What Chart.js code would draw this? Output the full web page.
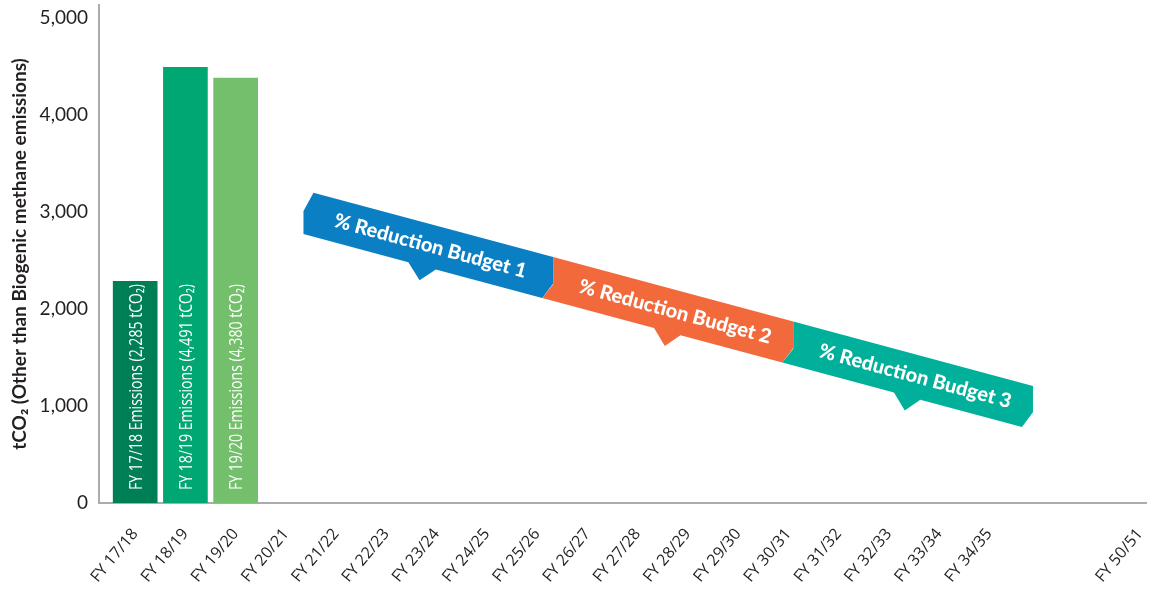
<!DOCTYPE html>
<html><head><meta charset="utf-8">
<script src="https://cdn.jsdelivr.net/npm/chart.js@4/dist/chart.umd.min.js"></script>
<style>html,body{margin:0;padding:0;background:#fff}#wrap{width:1151px;height:594px;position:relative}</style>
</head><body><div id="wrap"><canvas id="c"></canvas></div>
<script>
// ---- data ----
const categories = ['FY 17/18','FY 18/19','FY 19/20','FY 20/21','FY 21/22','FY 22/23','FY 23/24','FY 24/25','FY 25/26','FY 26/27','FY 27/28','FY 28/29','FY 29/30','FY 30/31','FY 31/32','FY 32/33','FY 33/34','FY 34/35','FY 50/51'];
const categoryPositions = [0,1,2,3,4,5,6,7,8,9,10,11,12,13,14,15,16,17,20];
const emissionYears = ['FY 17/18','FY 18/19','FY 19/20'];
const emissionValues = [2285, 4491, 4380];
const emissionLabels = ['FY 17/18 Emissions (2,285 tCO\u2082)','FY 18/19 Emissions (4,491 tCO\u2082)','FY 19/20 Emissions (4,380 tCO\u2082)'];
const emissionColors = ['#007f56','#00a772','#73bf6b'];
const yTickValues = [0, 1000, 2000, 3000, 4000, 5000];
const budgetLabels = ['% Reduction Budget 1','% Reduction Budget 2','% Reduction Budget 3'];
const budgetStart = [3.35, 8.32, 13.1];
const budgetEnd = [8.32, 13.1, 17.87];
const budgetStartValue = [3000, 2309, 1644];
const budgetEndValue = [2309, 1644, 980];
const budgetColors = ['#0a7fc4','#f26a3b','#00b09a'];
const yTitle = 'tCO\u2082 (Other than Biogenic methane emissions)';

const posOf = label => categoryPositions[categories.indexOf(label)];

const ribbonPlugin = {
  id: 'ribbons',
  afterDatasetsDraw(chart) {
    const ctx = chart.ctx, xs = chart.scales.x, ys = chart.scales.y;
    const T = 44;
    for (let i = 0; i < budgetLabels.length; i++) {
      const xL = xs.getPixelForValue(budgetStart[i]);
      const xR = xs.getPixelForValue(budgetEnd[i]);
      const yLc = ys.getPixelForValue(budgetStartValue[i]);
      const yRc = ys.getPixelForValue(budgetEndValue[i]);
      const m = (yRc - yLc) / (xR - xL);
      const top = x => yLc - T / 2 + m * (x - xL);
      const bot = x => yLc + T / 2 + m * (x - xL);
      const w = xR - xL;
      ctx.save();
      ctx.beginPath();
      if (i === 0) {
        ctx.moveTo(xL + 10, top(xL + 10));
        ctx.lineTo(xL, top(xL) + 0.48 * T);
        ctx.lineTo(xL, bot(xL));
      } else {
        ctx.moveTo(xL, top(xL));
        ctx.lineTo(xL, top(xL) + 0.62 * T);
        ctx.lineTo(xL - 11, bot(xL - 11));
      }
      const nL = xL + 0.42 * w, nT = xL + 0.465 * w, nR = xL + 0.53 * w;
      ctx.lineTo(nL, bot(nL));
      ctx.lineTo(nT, bot(nT) + 15);
      ctx.lineTo(nR, bot(nR));
      ctx.lineTo(xR - 11, bot(xR - 11));
      ctx.lineTo(xR, top(xR) + 0.6 * T);
      ctx.lineTo(xR, top(xR));
      ctx.closePath();
      ctx.fillStyle = budgetColors[i];
      ctx.fill();
      // text
      const cx = (xL + xR) / 2 + 2;
      const cy = (top(cx) + bot(cx)) / 2;
      ctx.translate(cx, cy);
      ctx.rotate(Math.atan(m));
      ctx.fillStyle = '#ffffff';
      ctx.font = '900 20px Lato';
      ctx.textAlign = 'center';
      ctx.textBaseline = 'middle';
      ctx.fillText(budgetLabels[i], 0, 0);
      ctx.restore();
    }
  }
};

const barTextPlugin = {
  id: 'barText',
  afterDatasetsDraw(chart) {
    const ctx = chart.ctx, ys = chart.scales.y;
    const meta = chart.getDatasetMeta(0);
    const y0 = ys.getPixelForValue(0);
    meta.data.forEach((el, i) => {
      ctx.save();
      ctx.translate(el.x + 1, y0 - 13);
      ctx.rotate(-Math.PI / 2);
      ctx.font = '19px "Open Sans"';
      const tw = ctx.measureText(emissionLabels[i]).width;
      ctx.scale(206 / tw, 1);
      ctx.fillStyle = '#ffffff';
      ctx.textAlign = 'left';
      ctx.textBaseline = 'middle';
      ctx.fillText(emissionLabels[i], 0, 0);
      ctx.restore();
    });
  }
};

new Chart(document.getElementById('c'), {
  type: 'bar',
  data: {
    datasets: [{
      data: emissionYears.map((c, i) => ({ x: posOf(c), y: emissionValues[i] })),
      backgroundColor: emissionColors,
      barThickness: 44,
      borderWidth: 0
    }]
  },
  options: {
    responsive: true,
    maintainAspectRatio: false,
    animation: false,
    layout: { padding: { top: 5, right: 5, left: 8, bottom: 0 } },
    plugins: { legend: { display: false }, tooltip: { enabled: false } },
    scales: {
      x: {
        type: 'linear',
        offset: false,
        min: -0.72, max: 20.12,
        grid: { display: false, drawTicks: false, offset: false },
        border: { display: true, color: '#a9adb0', width: 2 },
        afterBuildTicks: s => { s.ticks = categoryPositions.map(v => ({ value: v })); },
        afterFit: s => { s.height = 91; s.paddingLeft = 0; s.paddingRight = 0; },
        ticks: {
          autoSkip: false, maxRotation: 50, minRotation: 50, padding: 22,
          color: '#231f20', font: { family: '"Open Sans"', size: 16 },
          callback: v => categories[categoryPositions.indexOf(v)] ?? ''
        }
      },
      y: {
        min: 0, max: 5134,
        grid: { display: false, drawTicks: false },
        border: { display: true, color: '#a9adb0', width: 2 },
        afterBuildTicks: s => { s.ticks = yTickValues.map(v => ({ value: v })); },
        afterFit: s => { s.width = 91; s.paddingTop = 0; s.paddingBottom = 0; },
        ticks: {
          padding: 11, color: '#231f20', font: { family: 'Lato', size: 19 },
          callback: v => v.toLocaleString('en-US')
        },
        title: {
          display: true, text: yTitle, color: '#231f20',
          font: { family: 'Lato', size: 19, weight: 'bold' }, padding: 0
        }
      }
    }
  },
  plugins: [ribbonPlugin, barTextPlugin]
});
</script></body></html>
